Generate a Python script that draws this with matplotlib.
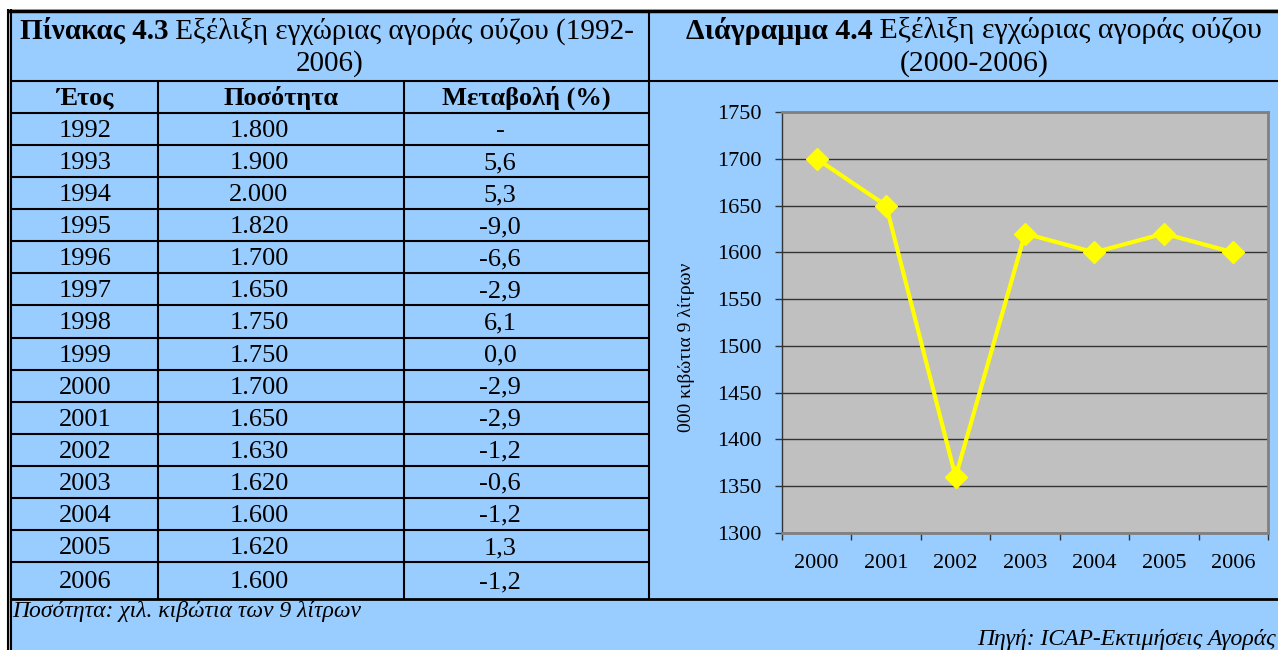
import matplotlib
matplotlib.use('Agg')
import matplotlib.pyplot as plt
from matplotlib.patches import Rectangle
from matplotlib.ticker import FixedLocator, NullFormatter

plt.rcParams['font.family'] = ['Liberation Serif', 'DejaVu Serif']

# ---------------- data ----------------
table_years = ['1992', '1993', '1994', '1995', '1996', '1997', '1998', '1999',
               '2000', '2001', '2002', '2003', '2004', '2005', '2006']
table_quantity = ['1.800', '1.900', '2.000', '1.820', '1.700', '1.650', '1.750', '1.750',
                  '1.700', '1.650', '1.630', '1.620', '1.600', '1.620', '1.600']
table_change = ['-', '5,6', '5,3', '-9,0', '-6,6', '-2,9', '6,1', '0,0',
                '-2,9', '-2,9', '-1,2', '-0,6', '-1,2', '1,3', '-1,2']
table_headers = ['Έτος', 'Ποσότητα', 'Μεταβολή (%)']

chart_years = ['2000', '2001', '2002', '2003', '2004', '2005', '2006']
chart_values = [1700, 1650, 1360, 1620, 1600, 1620, 1600]
y_ticks = [1300, 1350, 1400, 1450, 1500, 1550, 1600, 1650, 1700, 1750]

# ---------------- figure ----------------
W, H = 1278, 650
fig = plt.figure(figsize=(W / 100, H / 100), dpi=100)
bg = fig.add_axes([0, 0, 1, 1])
bg.set_xlim(0, W)
bg.set_ylim(H, 0)
bg.axis('off')

BLUE = '#99CCFF'
bg.add_patch(Rectangle((7, 9), W, H, facecolor=BLUE, edgecolor='none'))

def hline(y, x0, x1, lw=1.5):
    bg.plot([x0, x1], [y, y], color='black', lw=lw, solid_capstyle='butt')

def vline(x, y0, y1, lw=1.5):
    bg.plot([x, x], [y0, y1], color='black', lw=lw, solid_capstyle='butt')

# frame
hline(10.5, 7, W, lw=2.5)
vline(7.5, 9, H, lw=1.5)
vline(11, 9, H, lw=1.5)
hline(81, 11, W)
vline(648.5, 10, 599)
hline(599, 11, W, lw=2)

# table rows
header_top, header_bot = 81, 113
row_h = (562 - 113) / 14
row_bounds = [header_bot + i * row_h for i in range(15)] + [599]
for yb in row_bounds[:-1]:
    hline(yb, 11, 648.5)
vline(158, 81, 599)
vline(404, 81, 599)

TS = 19
HS = 19
col_centers = [84.5, 281, 526]
for cx, h in zip(col_centers, table_headers):
    bg.text(cx, (header_top + header_bot) / 2 + 1, h, ha='center', va='center',
            fontsize=HS, fontweight='bold')
for i, (yr, q, c) in enumerate(zip(table_years, table_quantity, table_change)):
    yc = (row_bounds[i] + row_bounds[i + 1]) / 2 + 2
    bg.text(85, yc, yr, ha='center', va='center', fontsize=TS)
    bg.text(259, yc, q, ha='center', va='center', fontsize=TS)
    bg.text(500, yc, c, ha='center', va='center', fontsize=TS)

# titles with mixed weight
fig.canvas.draw()
renderer = fig.canvas.get_renderer()

def mixed(cx, cy, bold, regular, size):
    t1 = bg.text(0, cy, bold, fontweight='bold', fontsize=size, ha='left', va='center')
    t2 = bg.text(0, cy, regular, fontsize=size, ha='left', va='center')
    w1 = t1.get_window_extent(renderer).width
    w2 = t2.get_window_extent(renderer).width
    x0 = cx - (w1 + w2) / 2
    t1.set_x(x0)
    t2.set_x(x0 + w1)

TT = 21
mixed(327, 31, 'Πίνακας 4.3', ' Εξέλιξη εγχώριας αγοράς ούζου (1992-', TT)
bg.text(329.5, 64, '2006)', ha='center', va='center', fontsize=TT)
mixed(974, 31, 'Διάγραμμα 4.4', ' Εξέλιξη εγχώριας αγοράς ούζου', 21.5)
bg.text(974, 64, '(2000-2006)', ha='center', va='center', fontsize=21.5)

# notes
bg.text(12, 612, 'Ποσότητα: χιλ. κιβώτια των 9 λίτρων', ha='left', va='center',
        fontsize=17, fontstyle='italic')
bg.text(1276, 640, 'Πηγή: ICAP-Εκτιμήσεις Αγοράς', ha='right', va='center',
        fontsize=17, fontstyle='italic')

# ---------------- chart ----------------
L, R, T, B = 782, 1268, 112, 533
ax = fig.add_axes([L / W, (H - B) / H, (R - L) / W, (B - T) / H])
ax.set_facecolor('#C0C0C0')
x = list(range(len(chart_years)))
ax.plot(x, chart_values, color='#FFFF00', lw=3, marker='D', markersize=11,
        markerfacecolor='#FFFF00', markeredgecolor='#FFFF00', zorder=3)
ax.set_xlim(-0.5, len(chart_years) - 0.5)
ax.set_ylim(y_ticks[0], y_ticks[-1])
ax.set_yticks(y_ticks)
ax.set_yticklabels([str(v) for v in y_ticks])
ax.set_xticks(x)
ax.set_xticklabels(chart_years)
ax.xaxis.set_minor_locator(FixedLocator([i - 0.5 for i in range(len(chart_years) + 1)]))
ax.xaxis.set_minor_formatter(NullFormatter())
ax.tick_params(axis='x', which='major', length=0, pad=15, labelsize=16)
ax.tick_params(axis='x', which='minor', length=5, width=1, color='#333333')
ax.tick_params(axis='y', length=5, width=1, color='#333333', pad=10, labelsize=16)
ax.yaxis.grid(True, color='#333333', lw=1)
ax.set_axisbelow(True)
for s in ['top', 'right', 'bottom']:
    ax.spines[s].set_color('#808080')
    ax.spines[s].set_linewidth(2)
ax.spines['left'].set_color('#333333')
ax.spines['left'].set_linewidth(1)
ax.set_ylabel('000 κιβώτια 9 λίτρων', fontsize=14)
ax.yaxis.set_label_coords((695 - L) / (R - L), (B - 347) / (B - T))

fig.savefig('out.png', dpi=100, facecolor='white')
